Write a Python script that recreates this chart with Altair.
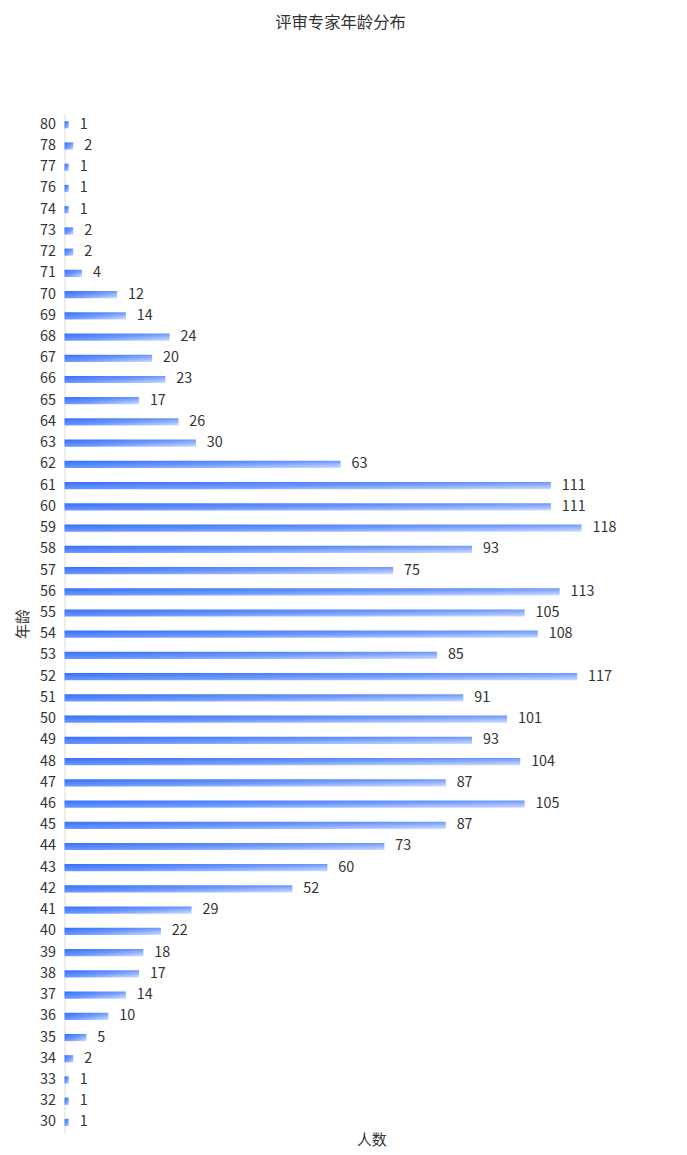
import altair as alt
import pandas as pd

ages = ["80", "78", "77", "76", "74", "73", "72", "71", "70", "69", "68", "67", "66", "65",
        "64", "63", "62", "61", "60", "59", "58", "57", "56", "55", "54", "53", "52", "51",
        "50", "49", "48", "47", "46", "45", "44", "43", "42", "41", "40", "39", "38", "37",
        "36", "35", "34", "33", "32", "30"]
counts = [1, 2, 1, 1, 1, 2, 2, 4, 12, 14, 24, 20, 23, 17,
          26, 30, 63, 111, 111, 118, 93, 75, 113, 105, 108, 85, 117, 91,
          101, 93, 104, 87, 105, 87, 73, 60, 52, 29, 22, 18, 17, 14,
          10, 5, 2, 1, 1, 1]

df = pd.DataFrame({"age": ages, "count": counts})

FONT = "Noto Sans CJK SC"
W = 619
H = 1028

y_enc = alt.Y(
    "age:N", sort=None,
    scale=alt.Scale(paddingInner=0.66, paddingOuter=0.33),
    axis=alt.Axis(
        title="年龄", titleFont=FONT, titleFontSize=15, titleFontWeight="normal",
        titleColor="#333333", titleAngle=-90, titleX=-42, titleY=H / 2,
        titleAlign="center", titleBaseline="middle",
        labelFont=FONT, labelFontSize=14.5, labelColor="#333333", labelPadding=9,
        ticks=False, domain=True, domainColor="#dddddd", grid=False,
    ),
)
x_enc = alt.X(
    "count:Q",
    scale=alt.Scale(domain=[0, 140], nice=False),
    axis=alt.Axis(
        title="人数", titleFont=FONT, titleFontSize=15, titleFontWeight="normal",
        titleColor="#333333", titlePadding=0,
        labels=False, ticks=False, domain=False, grid=False,
    ),
)

gradient = alt.Gradient(
    gradient="linear",
    stops=[
        alt.GradientStop(color="#3370ff", offset=0),
        alt.GradientStop(color="#6c97ff", offset=0.5),
        alt.GradientStop(color="#cddcff", offset=1),
    ],
    x1=0, y1=0, x2=1, y2=1,
)

bars = alt.Chart(df).mark_bar(color=gradient).encode(y=y_enc, x=x_enc)

labels = alt.Chart(df).mark_text(
    align="left", baseline="middle", dx=11, font=FONT, fontSize=14.5, color="#333333"
).encode(y=alt.Y("age:N", sort=None), x=alt.X("count:Q"), text="count:Q")

chart = (
    alt.layer(bars, labels)
    .properties(
        width=W, height=H,
        title=alt.TitleParams(
            "评审专家年龄分布", font=FONT, fontSize=16.5, fontWeight="normal",
            color="#333333", anchor="middle", offset=83, dx=-31,
        ),
        autosize=alt.AutoSizeParams(type="none"),
        padding={"left": 57, "top": 102, "right": 1, "bottom": 15},
    )
    .configure_view(stroke=None)
)

chart.save("out.html", embed_options={"renderer": "svg", "actions": False})
